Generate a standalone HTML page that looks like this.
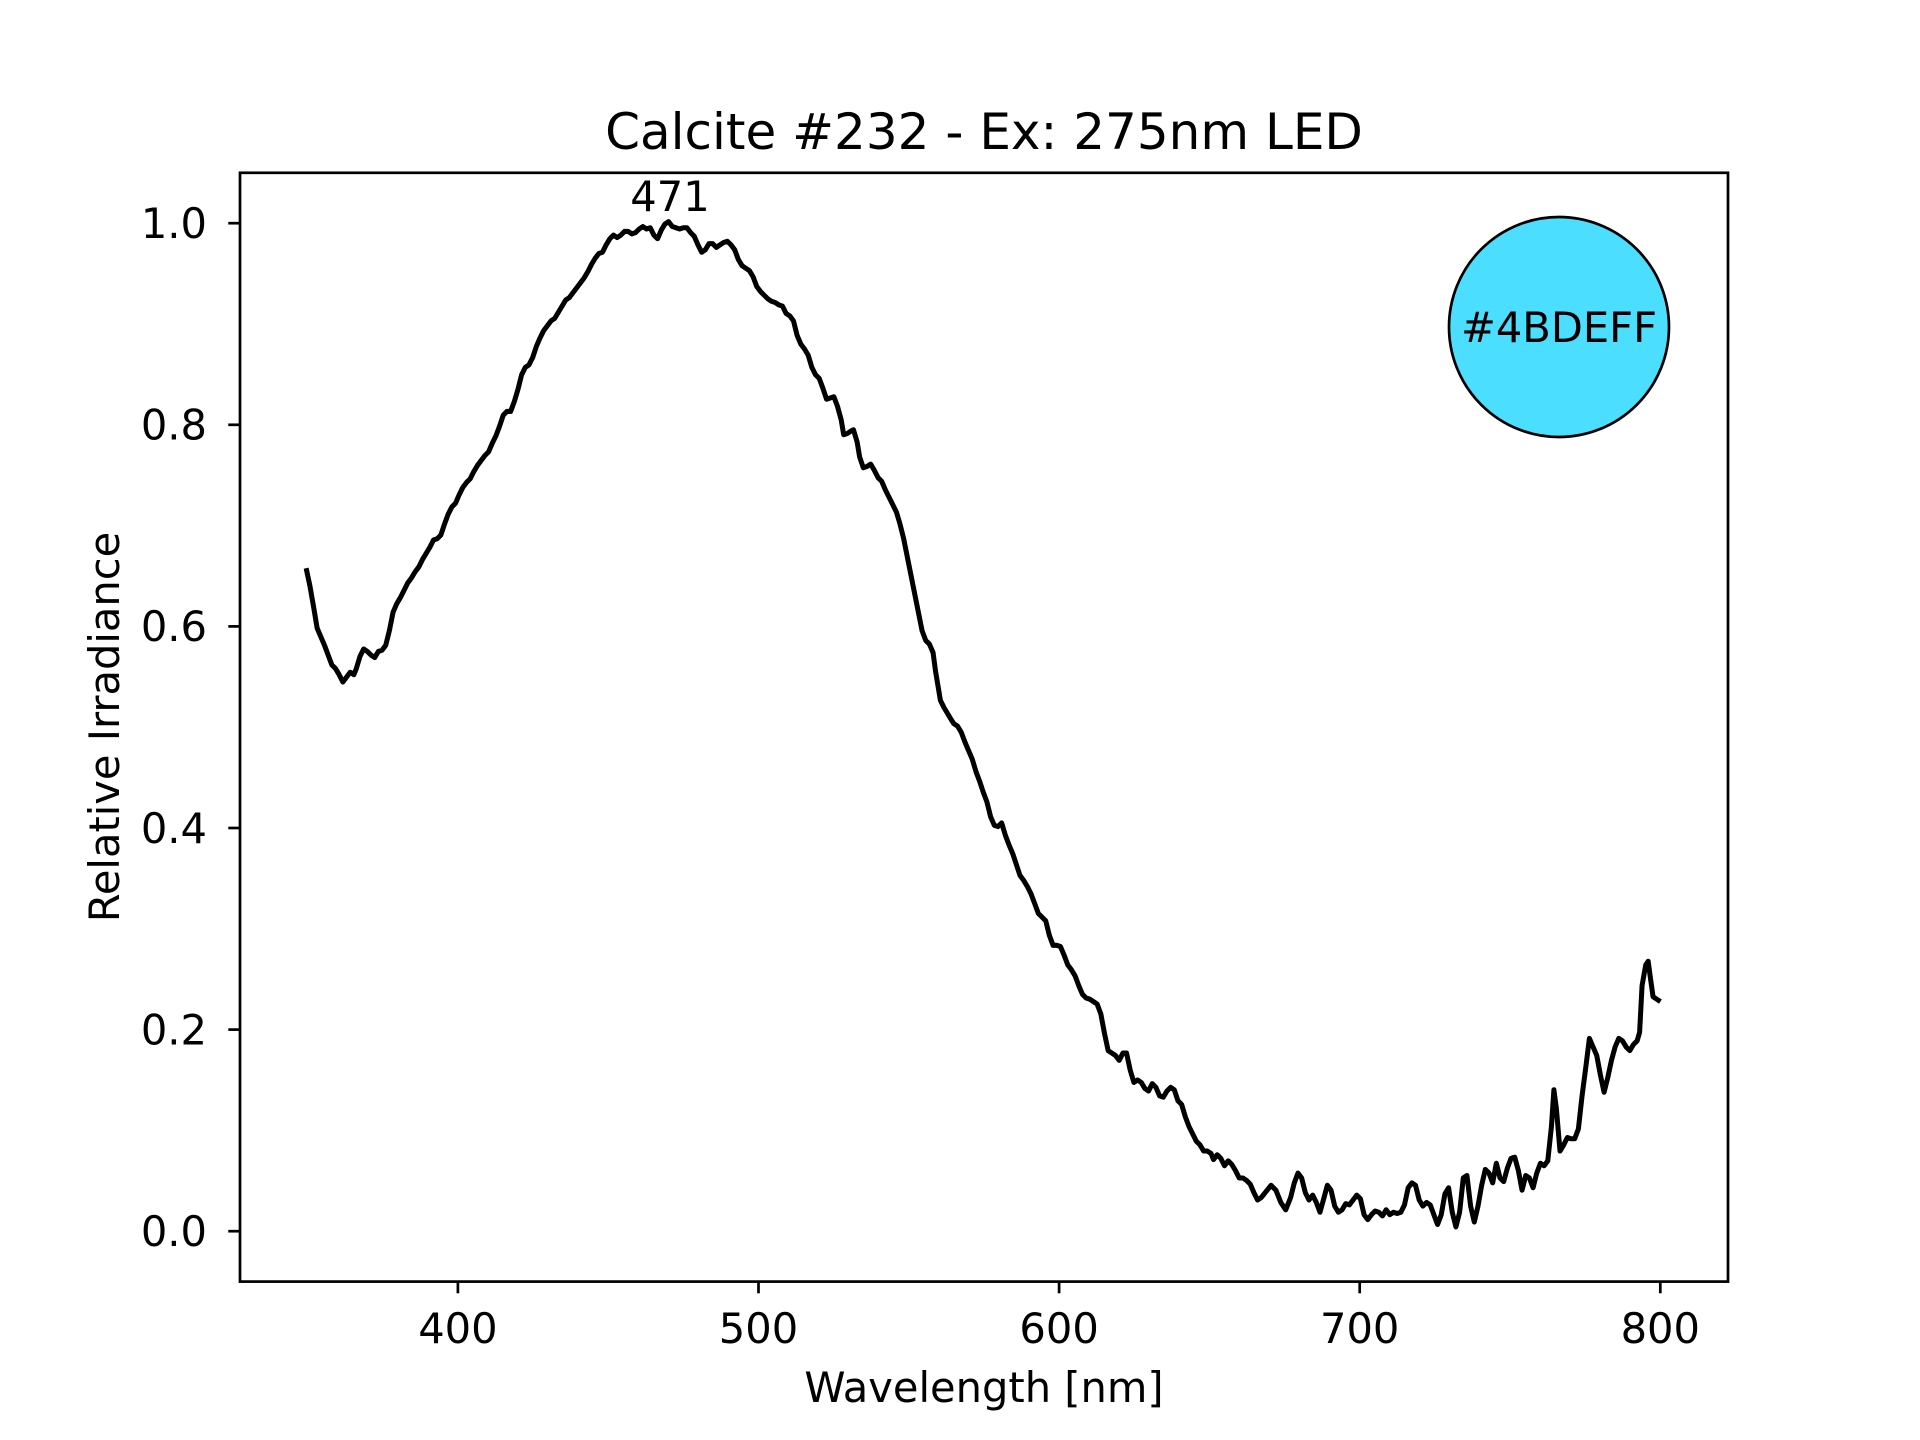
<!DOCTYPE html>
<html><head><meta charset="utf-8"><style>html,body{margin:0;padding:0;background:#fff}svg{display:block}text{font-family:"DejaVu Sans","Liberation Sans",sans-serif;fill:#000}</style></head>
<body>
<svg width="1920" height="1440" viewBox="0 0 1920 1440" xmlns="http://www.w3.org/2000/svg">
<rect width="1920" height="1440" fill="#fff"/>
<text x="984" y="149" font-size="50" text-anchor="middle">Calcite #232 - Ex: 275nm LED</text>
<g transform="scale(1.2245)">
<polyline fill="none" stroke="#000" stroke-width="4.1" stroke-linejoin="round" points="250,464 253,478 256,495 259,513 262,520 265,527 268,535 271,543 274,546 277,551 280,557 283,553 286,549 289,551 291,546 294,536 297,530 300,532 303,535 306,537 309,532 312,531 315,527 318,515 321,500 324,493 327,488 330,482 333,476 336,472 339,467 342,463 345,457 348,452 351,447 354,441 357,440 360,437 363,428 366,420 369,414 372,411 375,404 378,398 381,394 384,391 387,385 390,380 393,376 396,372 399,369 402,362 405,356 408,348 411,339 414,336 417,336 420,328 423,318 426,306 429,300 432,298 435,292 438,283 441,276 444,270 447,266 450,262 453,260 456,255 459,250 462,245 465,243 468,239 471,235 474,231 477,227 480,222 483,216 486,211 489,207 492,206 495,200 498,195 501,192 504,194 507,192 510,189 513,189 516,191 519,190 522,187 525,185 528,187 531,186 534,192 537,195 540,188 543,183 546,181 549,185 552,186 555,187 558,186 561,186 564,190 567,193 570,200 573,206 576,204 579,199 582,199 585,202 588,200 591,198 594,197 597,200 600,204 603,212 606,217 609,219 612,221 615,226 618,234 621,238 624,241 627,244 630,246 633,247 636,249 639,250 642,256 645,258 648,262 651,274 654,281 657,285 660,290 663,300 666,306 669,309 672,317 675,326 678,325 681,324 684,332 687,343 689,355 692,354 695,352 697,351 700,361 702,373 705,382 708,381 711,379 714,384 717,390 720,393 723,400 726,406 729,412 732,418 735,428 738,440 741,455 744,470 747,485 750,500 753,515 756,523 759,526 762,533 764,548 766,560 768,572 771,578 774,583 777,588 779,591 782,593 785,598 788,606 791,613 794,620 797,630 800,638 803,647 806,655 809,667 812,674 815,675 818,672 821,682 824,690 827,697 830,706 833,715 836,719 839,724 842,730 845,738 848,746 851,749 854,752 857,764 860,772 863,772 866,773 869,780 872,788 875,792 878,797 881,805 884,812 887,815 890,816 893,818 896,820 899,828 902,844 905,858 908,860 911,862 914,866 917,860 920,860 923,874 926,884 929,882 932,884 935,889 938,891 941,885 944,888 947,895 950,896 953,891 956,888 959,890 962,899 965,902 968,912 971,920 974,926 977,932 980,935 983,940 986,940 989,942 991,947 994,943 997,946 1000,952 1003,948 1006,951 1009,956 1012,962 1015,962 1018,964 1021,967 1024,974 1027,980 1030,978 1034,973 1038,968 1042,972 1046,982 1050,988 1054,978 1057,966 1060,958 1063,962 1066,974 1069,980 1072,976 1075,982 1078,990 1081,979 1084,968 1087,972 1090,985 1093,990 1096,988 1099,983 1102,984 1105,980 1108,976 1111,979 1114,992 1117,996 1120,992 1123,989 1126,990 1129,993 1132,988 1135,992 1138,990 1141,991 1144,990 1147,984 1150,970 1153,966 1156,968 1159,980 1162,985 1165,982 1168,984 1171,992 1174,1000 1177,992 1180,975 1183,970 1186,990 1189,1002 1192,990 1195,962 1198,960 1201,985 1204,998 1207,985 1210,968 1213,955 1216,958 1219,966 1222,950 1225,962 1228,965 1231,954 1234,946 1237,945 1240,956 1243,972 1246,960 1249,962 1252,970 1255,958 1258,950 1261,952 1264,948 1267,920 1269,890 1271,905 1274,940 1277,935 1280,929 1283,930 1286,930 1289,922 1292,895 1295,872 1298,848 1301,855 1304,862 1307,878 1310,892 1313,880 1316,866 1319,855 1322,848 1325,850 1328,855 1331,858 1334,853 1337,850 1339,843 1341,805 1344,788 1346,785 1348,800 1350,814 1353,816 1356,818"/>
</g>
<text x="670" y="211" font-size="41.6" text-anchor="middle">471</text>
<circle cx="1559" cy="327" r="110" fill="#4BDEFF" stroke="#000" stroke-width="2.7"/>
<text x="1559" y="342" font-size="41.6" text-anchor="middle">#4BDEFF</text>
<rect x="240" y="172.8" width="1488" height="1108.8" fill="none" stroke="#000" stroke-width="2.7"/>
<g stroke="#000" stroke-width="2.7">
<line x1="240" x2="228.3" y1="1231.2" y2="1231.2"/>
<line x1="240" x2="228.3" y1="1029.6" y2="1029.6"/>
<line x1="240" x2="228.3" y1="828" y2="828"/>
<line x1="240" x2="228.3" y1="626.4" y2="626.4"/>
<line x1="240" x2="228.3" y1="424.8" y2="424.8"/>
<line x1="240" x2="228.3" y1="223.2" y2="223.2"/>
<line y1="1281.6" y2="1293.3" x1="457.9" x2="457.9"/>
<line y1="1281.6" y2="1293.3" x1="758.5" x2="758.5"/>
<line y1="1281.6" y2="1293.3" x1="1059.1" x2="1059.1"/>
<line y1="1281.6" y2="1293.3" x1="1359.7" x2="1359.7"/>
<line y1="1281.6" y2="1293.3" x1="1660.3" x2="1660.3"/>
</g>
<g font-size="41.6" text-anchor="end">
<text x="207" y="1246">0.0</text>
<text x="207" y="1044.4">0.2</text>
<text x="207" y="842.8">0.4</text>
<text x="207" y="641.2">0.6</text>
<text x="207" y="439.6">0.8</text>
<text x="207" y="238">1.0</text>
</g>
<g font-size="41.6" text-anchor="middle">
<text x="457.9" y="1343">400</text>
<text x="758.5" y="1343">500</text>
<text x="1059.1" y="1343">600</text>
<text x="1359.7" y="1343">700</text>
<text x="1660.3" y="1343">800</text>
<text x="984" y="1402">Wavelength [nm]</text>
<text transform="translate(119,727) rotate(-90)">Relative Irradiance</text>
</g>
</svg>
</body></html>
